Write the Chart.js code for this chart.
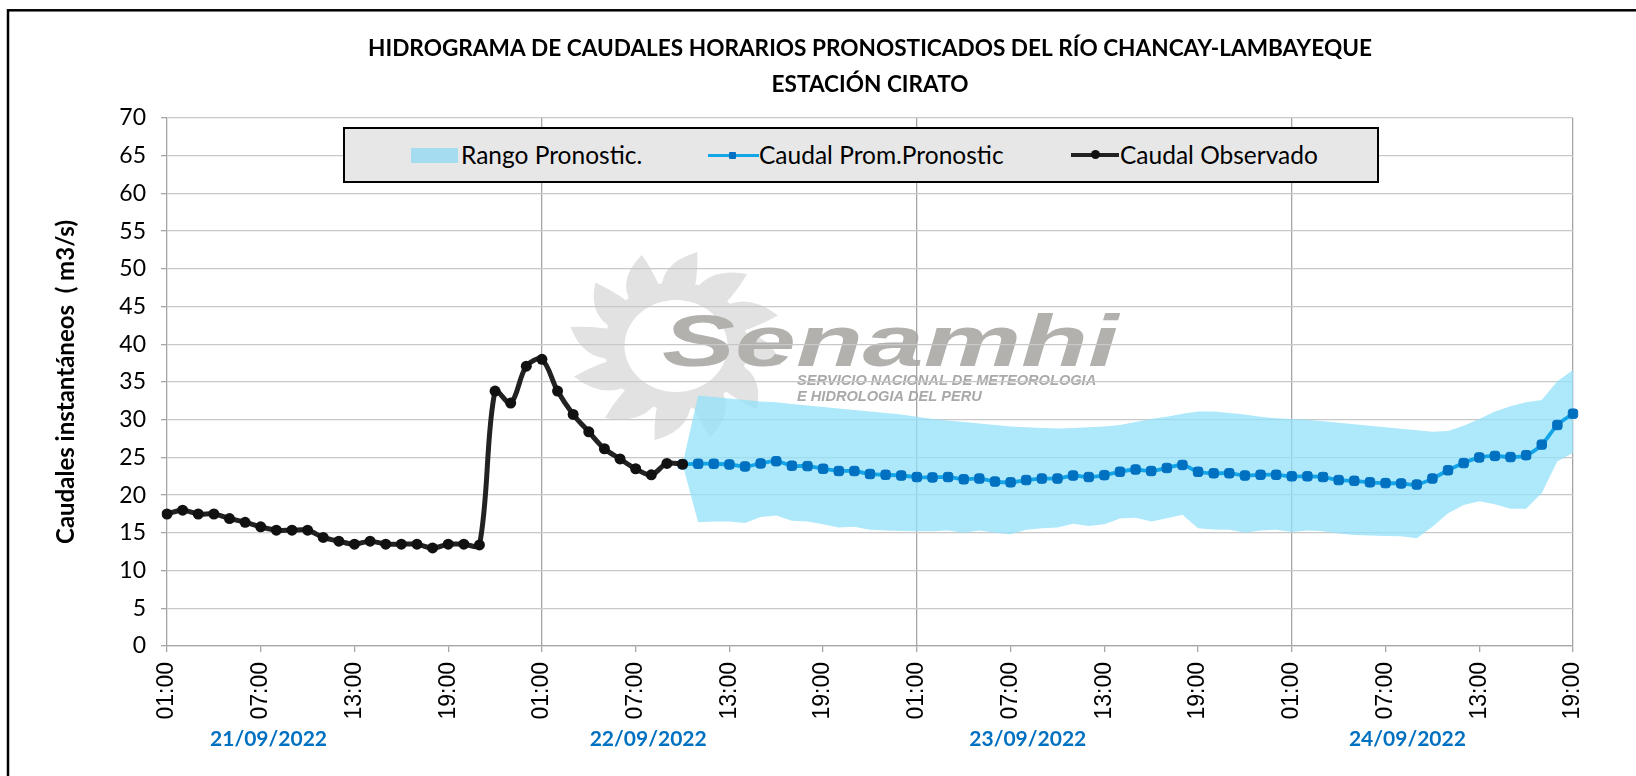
<!DOCTYPE html>
<html>
<head>
<meta charset="utf-8">
<script src="https://cdn.jsdelivr.net/npm/chart.js@4.4.1/dist/chart.umd.min.js"></script>
<style>
html,body{margin:0;padding:0;background:#fff;}
#wrap{position:relative;width:1636px;height:776px;overflow:hidden;}
#legend{position:absolute;left:343px;top:127px;width:1036px;height:56px;box-sizing:border-box;border:2px solid #000;background:#e7e7e7;font-family:Lato,"Open Sans",sans-serif;font-size:24.5px;color:#000;}
.lt{position:absolute;top:0;height:52px;line-height:52px;white-space:nowrap;}
.sw{position:absolute;}
</style>
</head>
<body>
<div id="wrap">
<canvas id="c" width="1636" height="776"></canvas>
<div id="legend">
  <div class="sw" style="left:66px;top:19px;width:47px;height:15px;background:#a6dcef;"></div>
  <div class="lt" style="left:116px;">Rango Pronostic.</div>
  <div class="sw" style="left:363px;top:25px;width:51px;height:3px;background:#12a5e8;"></div>
  <div class="sw" style="left:384px;top:23px;width:7px;height:7px;background:#0070c0;border-radius:1px;"></div>
  <div class="lt" style="left:414px;">Caudal Prom.Pronostic</div>
  <div class="sw" style="left:726px;top:24px;width:48px;height:4px;background:#222;"></div>
  <div class="sw" style="left:746px;top:21px;width:9px;height:9px;background:#111;border-radius:50%;"></div>
  <div class="lt" style="left:775px;">Caudal Observado</div>
</div>
</div>
<script>
// ---------------- DATA ----------------
// hourly categories from 01:00 21/09/2022 to 19:00 24/09/2022
const timeLabels = [];
for (let i = 0; i <= 90; i++) { const h = (1 + i) % 24; timeLabels.push(String(h).padStart(2, '0') + ':00'); }

const dateLabels = ['21/09/2022', '22/09/2022', '23/09/2022', '24/09/2022'];

// observed discharge (m3/s), starting at index 0 (01:00 21/09)
const observedStart = 0;
const observed = [17.5, 18.0, 17.5, 17.5, 16.9, 16.4, 15.8, 15.35, 15.35, 15.35,
  14.4, 13.9, 13.5, 13.9, 13.5, 13.5, 13.5, 13.0, 13.5, 13.5,
  13.4, 33.8, 32.2, 37.1, 38.0, 33.8, 30.7, 28.4, 26.15, 24.8,
  23.5, 22.7, 24.2, 24.1];

// forecast series, starting at index 33 (10:00 22/09)
const forecastStart = 33;
const forecastMean = [24.1, 24.16, 24.16, 24.07, 23.8, 24.2, 24.5, 23.9, 23.85, 23.5,
  23.2, 23.2, 22.8, 22.7, 22.6, 22.4, 22.35, 22.4, 22.1, 22.2,
  21.8, 21.7, 22.0, 22.2, 22.2, 22.6, 22.4, 22.65, 23.1, 23.4,
  23.2, 23.6, 24.0, 23.1, 22.9, 22.9, 22.6, 22.7, 22.7, 22.5,
  22.5, 22.4, 22.0, 21.9, 21.7, 21.6, 21.55, 21.4, 22.2, 23.3,
  24.25, 25.0, 25.2, 25.05, 25.3, 26.7, 29.3, 30.8];
const forecastUpper = [24.1, 33.2, 33.0, 32.8, 32.6, 32.4, 32.3, 32.1, 31.9, 31.7,
  31.5, 31.3, 31.1, 30.9, 30.7, 30.4, 30.1, 29.9, 29.7, 29.5,
  29.3, 29.1, 29.0, 28.9, 28.85, 28.9, 29.0, 29.1, 29.3, 29.7,
  30.1, 30.4, 30.8, 31.1, 31.1, 30.9, 30.7, 30.4, 30.2, 30.1,
  30.0, 29.8, 29.6, 29.4, 29.2, 29.0, 28.8, 28.6, 28.4, 28.5,
  29.2, 30.1, 31.1, 31.8, 32.3, 32.6, 35.1, 36.6];
const forecastLower = [24.1, 16.4, 16.5, 16.5, 16.3, 17.1, 17.3, 16.6, 16.5, 16.15,
  15.7, 15.8, 15.4, 15.3, 15.25, 15.2, 15.2, 15.3, 15.0, 15.3,
  15.0, 14.8, 15.4, 15.6, 15.7, 16.2, 15.9, 16.15, 16.9, 17.0,
  16.5, 16.95, 17.4, 15.6, 15.45, 15.4, 15.0, 15.3, 15.4, 15.1,
  15.3, 15.2, 14.9, 14.7, 14.65, 14.6, 14.55, 14.3, 15.8, 17.6,
  18.7, 19.2, 18.8, 18.2, 18.2, 20.3, 24.5, 25.6];

// ---------------- LAYOUT / STYLE ----------------
const dateLabelPos = [6.5, 30.8, 55.1, 79.4];  // category positions of date captions
const pad = (arr, start) => timeLabels.map((_, i) => (i >= start && i < start + arr.length) ? arr[i - start] : null);

function drawSun(ctx, cx, cy) {
  ctx.fillStyle = '#e2e2e2';
  const n = 12;
  const p = (r, t) => [cx + r * Math.cos(t) * 1.12, cy + r * Math.sin(t)];
  for (let k = 0; k < n; k++) {
    const a = k * 2 * Math.PI / n;
    ctx.beginPath();
    const s = p(48, a - 0.26), c1 = p(84, a - 0.22), tip = p(96, a + 0.2), c2 = p(68, a + 0.3), e = p(48, a + 0.28);
    ctx.moveTo(s[0], s[1]);
    ctx.quadraticCurveTo(c1[0], c1[1], tip[0], tip[1]);
    ctx.quadraticCurveTo(c2[0], c2[1], e[0], e[1]);
    ctx.closePath();
    ctx.fill();
  }
  ctx.beginPath();
  ctx.ellipse(cx, cy, 64 * 1.12, 64, 0, 0, 2 * Math.PI);
  ctx.moveTo(cx + 46 * 1.12, cy);
  ctx.ellipse(cx, cy, 46 * 1.12, 46, 0, 0, 2 * Math.PI);
  ctx.fill('evenodd');
}

const decoPlugin = {
  id: 'deco',
  beforeDraw(chart) {
    const ctx = chart.ctx;
    ctx.save();
    ctx.fillStyle = '#fff';
    ctx.fillRect(0, 0, chart.width, chart.height);
    drawSun(ctx, 676, 346);
    ctx.save();
    ctx.translate(662, 366);
    ctx.scale(1.5, 1);
    ctx.font = 'italic bold 73px "Liberation Sans"';
    ctx.fillStyle = '#b3b1ae';
    ctx.textBaseline = 'alphabetic';
    ctx.fillText('Senamhi', 0, 0);
    ctx.restore();
    ctx.font = 'italic bold 14.6px "Liberation Sans"';
    ctx.fillStyle = '#a9a9a9';
    ctx.fillText('SERVICIO NACIONAL DE METEOROLOGIA', 797, 385);
    ctx.fillText('E HIDROLOGIA DEL PERU', 797, 401);
    ctx.restore();
  },
  afterDraw(chart) {
    const ctx = chart.ctx;
    const xs = chart.scales.x;
    ctx.save();
    ctx.font = 'bold 21px Lato';
    ctx.fillStyle = '#0070c0';
    ctx.textAlign = 'center';
    ctx.textBaseline = 'middle';
    dateLabels.forEach((t, k) => ctx.fillText(t, xs.getPixelForValue(dateLabelPos[k]), 739));
    ctx.lineWidth = 2.5;
    ctx.strokeStyle = '#000';
    ctx.strokeRect(8, 10.3, 1700, 900);
    ctx.restore();
  }
};

new Chart(document.getElementById('c'), {
  type: 'line',
  data: {
    labels: timeLabels,
    datasets: [
      { label: 'Caudal Observado', data: pad(observed, observedStart), borderColor: '#222', borderWidth: 5,
        pointRadius: 5.5, pointBackgroundColor: '#111', pointBorderWidth: 0, tension: 0.33, fill: false },
      { label: 'Caudal Prom.Pronostic', data: pad(forecastMean, forecastStart), borderColor: '#12a5e8', borderWidth: 3.8,
        pointStyle: 'rectRounded', pointRadius: 5.5, pointBackgroundColor: '#0070c0', pointBorderColor: '#0070c0',
        pointBorderWidth: 1, tension: 0.33, fill: false },
      { label: 'Rango Pronostic.', data: pad(forecastUpper, forecastStart), borderColor: 'rgba(0,0,0,0)', borderWidth: 0,
        pointRadius: 0, fill: '+1', backgroundColor: 'rgba(145,224,250,0.75)', tension: 0 },
      { label: 'Rango inf', data: pad(forecastLower, forecastStart), borderColor: 'rgba(0,0,0,0)', borderWidth: 0,
        pointRadius: 0, fill: false, tension: 0 }
    ]
  },
  options: {
    responsive: false,
    animation: false,
    events: [],
    layout: { padding: { left: 10, right: 63, top: 0, bottom: 0 } },
    plugins: {
      legend: { display: false },
      tooltip: { enabled: false },
      title: {
        display: true,
        fullSize: false,
        text: ['HIDROGRAMA DE CAUDALES HORARIOS PRONOSTICADOS DEL RÍO CHANCAY-LAMBAYEQUE', 'ESTACIÓN CIRATO'],
        color: '#000',
        font: { family: 'Lato', size: 22.6, weight: 'bold', lineHeight: 1.593 },
        padding: { top: 31, bottom: 15 }
      }
    },
    scales: {
      x: {
        type: 'category',
        offset: false,
        border: { color: '#a6a6a6', width: 1.3 },
        grid: {
          color: c => (c.index > 0 && (c.index % 24 === 0 || c.index === 90)) ? '#a6a6a6' : 'rgba(0,0,0,0)',
          tickColor: c => (c.index % 6 === 0) ? '#a6a6a6' : 'rgba(0,0,0,0)',
          lineWidth: 1.3,
          tickLength: 6
        },
        ticks: {
          autoSkip: false, maxRotation: 90, minRotation: 90, padding: 10, color: '#000',
          font: { family: 'Liberation Sans', size: 23 },
          callback: (v, i) => (i % 6 === 0 ? timeLabels[i] : '')
        },
        afterFit: s => { s.height = 130; }
      },
      y: {
        min: 0, max: 70,
        border: { color: '#a6a6a6', width: 1.3 },
        grid: { color: '#c8c8c8', lineWidth: 1.3, tickLength: 6, tickColor: '#a6a6a6' },
        ticks: { stepSize: 5, padding: 15, color: '#000', font: { family: 'Lato', size: 23 } },
        title: {
          display: true, text: 'Caudales instantáneos  ( m3/s)', color: '#000',
          font: { family: 'Lato', size: 24, weight: 'bold', lineHeight: 1.2 },
          padding: { top: 42, bottom: 0 }
        },
        afterFit: s => { s.width = 157; }
      }
    }
  },
  plugins: [decoPlugin]
});
</script>
</body>
</html>
